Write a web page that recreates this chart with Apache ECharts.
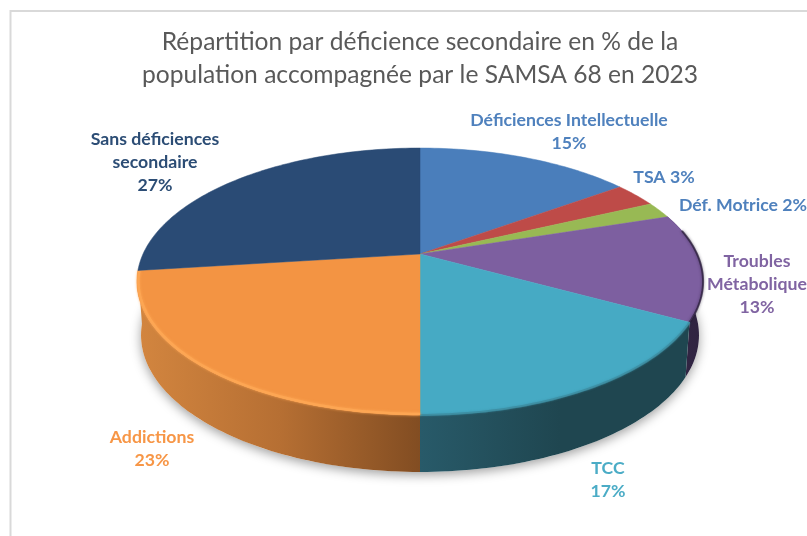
<!DOCTYPE html>
<html><head><meta charset="utf-8">
<style>html,body{margin:0;padding:0;background:#fff}#c{width:807px;height:536px}</style>
<script src="https://cdn.jsdelivr.net/npm/echarts@6/dist/echarts.min.js"></script></head>
<body><div id="c"></div>
<script>
// ---- data ----
const categories = ['Déficiences Intellectuelle','TSA','Déf. Motrice','Troubles Métabolique','TCC','Addictions','Sans déficiences secondaire'];
const values = [15,3,2,13,17,23,27];
const titleLines = ['Répartition par déficience secondaire en % de la','population accompagnée par le SAMSA 68 en 2023'];

// ---- style / layout ----
const topColors = ['#4a7ebb','#be4b48','#98b954','#7d5fa0','#46aac4','#f39443','#2a4b75'];
const labelColors = ['#4f81bd','#4f81bd','#4f81bd','#8064a2','#4bacc6','#f79646','#2c4d75'];
const labelLines = [['Déficiences Intellectuelle'],[],[],['Troubles','Métabolique'],['TCC'],['Addictions'],['Sans déficiences','secondaire']];
const labelAt = [[569,120],[664,177],[743,205],[757,261],[608,468],[152,437],[155,139]];
const wallStops = {
  3:[[640,'#3a2a4a'],[705,'#2e2340']],
  4:[[420,'#285a69'],[560,'#1f4650'],[690,'#1f4650']],
  5:[[140,'#d2853f'],[280,'#b66f33'],[420,'#824d22']]
};
const topPlane = {cx:420, cy:254, a:277, b:127.8, p:0.206};
const botPlane = {cx:420, cy:307, a:273, b:131, p:0.206};
const LH = 23;

const total = values.reduce((s,v)=>s+v,0);
const starts = values.map((_,i)=>values.slice(0,i).reduce((s,v)=>s+v,0));
function project(pl, frac, k){
  k = k==null?1:k;
  const t = frac*2*Math.PI, X = Math.sin(t)*k, Y = Math.cos(t)*k, w = 1+pl.p*Y;
  return [pl.cx+pl.a*X/w, pl.cy-pl.b*Y/w];
}
function arc(pl, i, k){
  const f0 = starts[i]/total, f1 = (starts[i]+values[i])/total, n = Math.max(8,Math.ceil(values[i]*3)), pts=[];
  for(let j=0;j<=n;j++) pts.push(project(pl,f0+(f1-f0)*j/n,k));
  return pts;
}
function wallFill(i){
  const s = wallStops[i], x0=s[0][0], x1=s[s.length-1][0];
  return {type:'linear',global:true,x:x0,y:0,x2:x1,y2:0,
    colorStops:s.map(d=>({offset:(d[0]-x0)/(x1-x0),color:d[1]}))};
}
const rimStyle = {
  3:{stroke:'rgba(40,28,55,0.7)',lineWidth:2,k:1,from:0.15,blur:3},
  4:{stroke:'rgba(60,140,160,0.8)',lineWidth:2,k:1,blur:2},
  5:{stroke:'#fda653',lineWidth:2.5,k:0.995,blur:3}
};
function renderWall(params){
  const i = params.dataIndex;
  if(!wallStops[i]) return {type:'group',children:[]};
  const top = arc(topPlane,i), bot = arc(botPlane,i).reverse();
  return {type:'polygon',shape:{points:top.concat(bot)},style:{fill:wallFill(i)}};
}
function renderTop(params){
  const i = params.dataIndex;
  const centre = [topPlane.cx,topPlane.cy];
  const kids = [{type:'polygon',shape:{points:[centre].concat(arc(topPlane,i))},
    style:{fill:topColors[i],stroke:topColors[i],lineWidth:0.5}}];
  const r = rimStyle[i];
  if(r){
    let pts = arc(topPlane,i,r.k);
    if(r.from) pts = pts.filter((_,j)=>j/pts.length>=r.from);
    kids.push({type:'polyline',shape:{points:pts},
      style:{fill:'none',stroke:r.stroke,lineWidth:r.lineWidth,shadowBlur:r.blur,shadowColor:r.stroke}});
  }
  return {type:'group',children:kids};
}
function renderShadow(params){
  if(params.dataIndex!==0) return {type:'group',children:[]};
  const pts=[]; for(let j=0;j<180;j++) pts.push(project(botPlane,j/180));
  return {type:'polygon',shape:{points:pts},
    style:{fill:'#fff',shadowBlur:11,shadowOffsetY:3,shadowColor:'rgba(0,0,0,0.38)'}};
}
function renderLabel(params){
  const i = params.dataIndex, pct = values[i]+'%';
  const lines = labelLines[i].length ? labelLines[i].concat(pct) : [categories[i]+' '+pct];
  return {type:'group',children:lines.map((t,j)=>({type:'text',
    style:{text:t,x:labelAt[i][0],y:labelAt[i][1]+j*LH,align:'center',verticalAlign:'middle',
      font:'bold 17.7px Lato, sans-serif',fill:labelColors[i]}}))};
}
const chart = echarts.init(document.getElementById('c'),null,{renderer:'canvas'});
const base = {type:'custom',coordinateSystem:'none',data:values,silent:true,animation:false};
chart.setOption({
  animation:false,
  backgroundColor:'#fff',
  title:{text:titleLines.join('\n'),left:415,top:21,textAlign:'center',
    textStyle:{fontFamily:'Lato, sans-serif',fontWeight:'normal',fontSize:24.6,lineHeight:33,color:'#595959'}},
  graphic:[{type:'polyline',z:-1,shape:{points:[[10.5,536],[10.5,11],[807,11]]},
    style:{fill:'none',stroke:'#d9d9d9',lineWidth:2}}],
  series:[
    Object.assign({},base,{name:'ombre',z:1,renderItem:renderShadow}),
    Object.assign({},base,{name:'côtés',z:2,renderItem:renderWall}),
    Object.assign({},base,{name:'parts',z:3,renderItem:renderTop}),
    Object.assign({},base,{name:'étiquettes',z:4,renderItem:renderLabel})
  ]
});
</script></body></html>
